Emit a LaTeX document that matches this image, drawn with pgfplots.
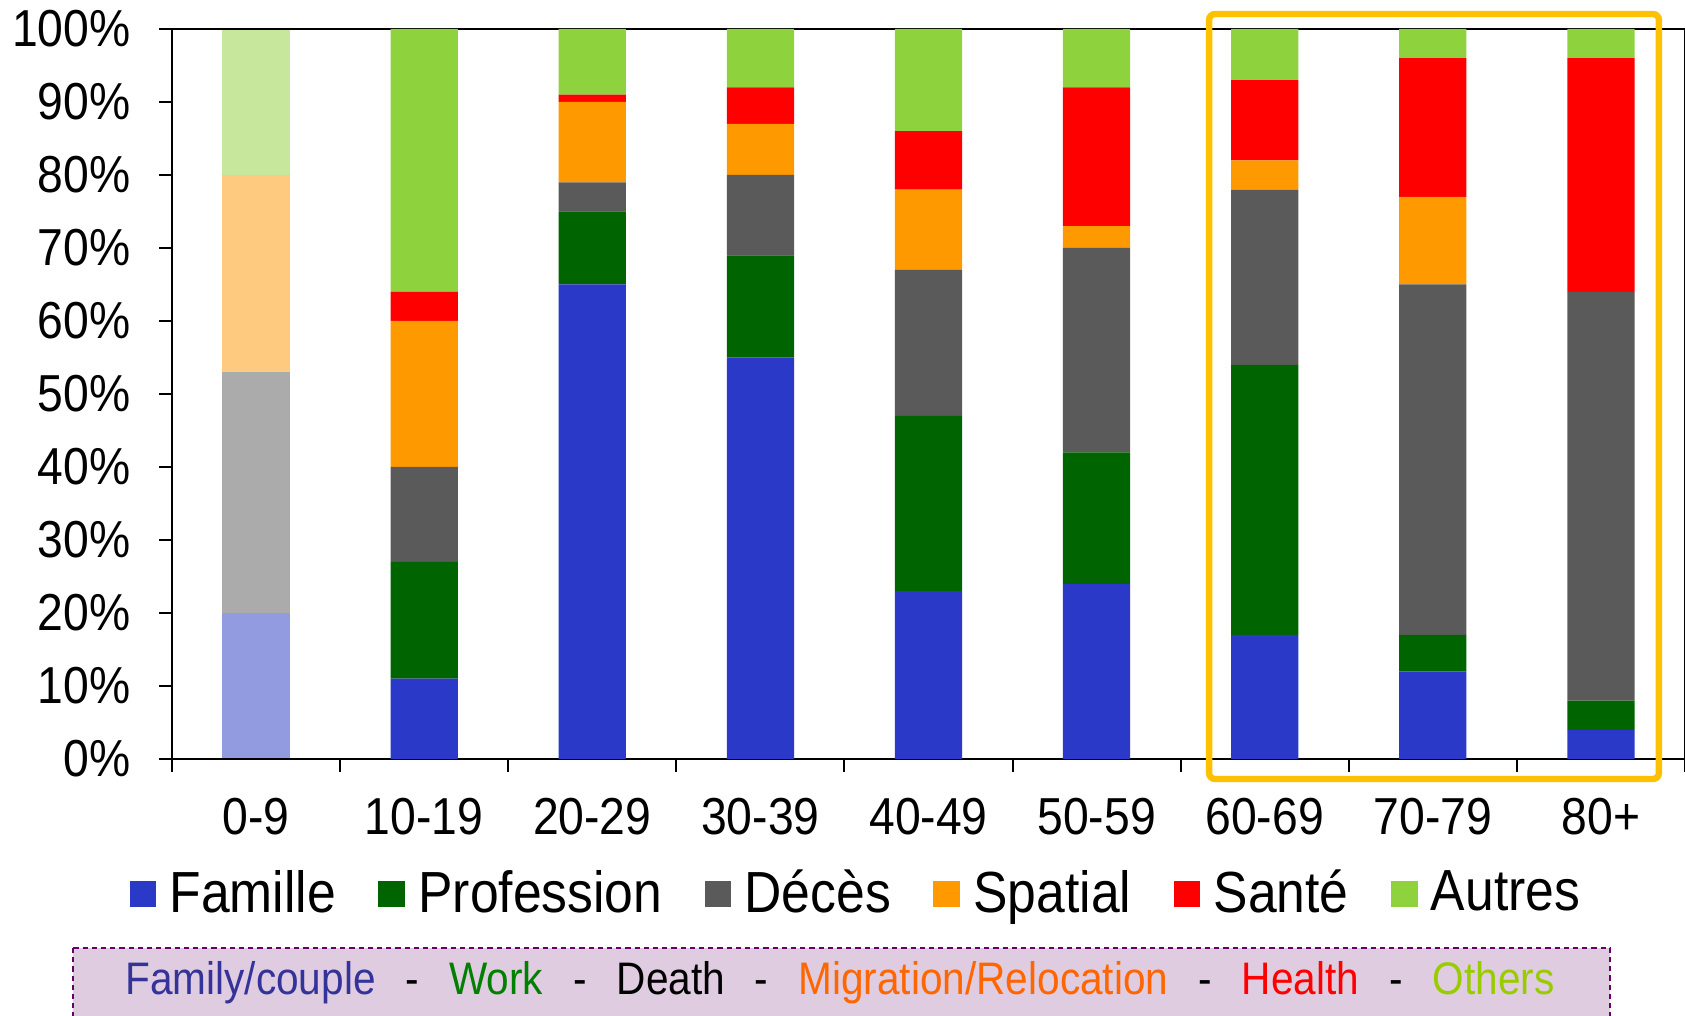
\documentclass[border=0pt]{standalone}
\usepackage{fontspec}
\setmainfont[FakeStretch=0.89]{Liberation Sans}
\usepackage{pgfplots}
\usepackage{pgfplotstable}
\pgfplotsset{compat=1.18}

\definecolor{cfam}{HTML}{2B39C8}
\definecolor{cpro}{HTML}{006400}
\definecolor{cdec}{HTML}{5A5A5A}
\definecolor{cspa}{HTML}{FF9900}
\definecolor{csan}{HTML}{FF0000}
\definecolor{caut}{HTML}{8ED23E}
\definecolor{lfam}{HTML}{939BE0}
\definecolor{ldec}{HTML}{ABABAB}
\definecolor{lspa}{HTML}{FECA80}
\definecolor{laut}{HTML}{C6E79C}
\definecolor{hilite}{HTML}{FFC000}
\definecolor{boxfill}{HTML}{E0CCE0}
\definecolor{boxedge}{HTML}{660066}
\definecolor{tfam}{HTML}{333399}
\definecolor{twork}{HTML}{008000}
\definecolor{tmig}{HTML}{FF6600}
\definecolor{toth}{HTML}{99CC00}

% shares per age group (percent), stacked bottom to top
\pgfplotstableread{
x fam pro dec spa san aut
1 11 16 13 20 4 36
2 65 10 4 11 1 9
3 55 14 11 7 5 8
4 23 24 20 11 8 14
5 24 18 28 3 19 8
6 17 37 24 4 11 7
7 12 5 48 12 19 4
8 4 4 56 0 32 4
}\ages

% 0-9 group, drawn in faded colours
\pgfplotstableread{
x fam pro dec spa san aut
0 20 0 33 27 0 20
}\young

\pgfplotsset{
  base/.style={
    width=378.25pt, height=182.5pt, scale only axis,
    xmin=-0.5, xmax=8.5, ymin=0, ymax=100,
    ybar stacked, bar width=0.4,
  },
  leg/.style={legend image code/.code={\fill[##1] (0pt,-3.35pt) rectangle (6.7pt,3.35pt);}},
}

\begin{document}
\begin{tikzpicture}
\path[use as bounding box] (-43pt,-64.25pt) rectangle (378.25pt,189.75pt);

\begin{axis}[base, hide axis]
\addplot[fill=lfam, draw=none] table[x=x, y=fam] {\young};
\addplot[fill=cpro, draw=none] table[x=x, y=pro] {\young};
\addplot[fill=ldec, draw=none] table[x=x, y=dec] {\young};
\addplot[fill=lspa, draw=none] table[x=x, y=spa] {\young};
\addplot[fill=csan, draw=none] table[x=x, y=san] {\young};
\addplot[fill=laut, draw=none] table[x=x, y=aut] {\young};
\end{axis}

\begin{axis}[
  base,
  clip=false,
  axis line style={black, line width=0.6pt},
  tick align=outside,
  xtick pos=left, ytick pos=left,
  major tick length=3.2pt,
  tick style={black, line width=0.5pt},
  xtick={-0.5,0.5,...,8.5},
  xticklabels={},
  extra x ticks={0,1,2,3,4,5,6,7,8},
  extra x tick labels={0-9,10-19,20-29,30-39,40-49,50-59,60-69,70-79,80+},
  extra x tick style={major tick length=0pt,
    xticklabel style={anchor=base, yshift=-19pt}},
  ytick={0,10,...,100},
  yticklabels={0\%,10\%,20\%,30\%,40\%,50\%,60\%,70\%,80\%,90\%,100\%},
  yticklabel style={anchor=east, inner sep=0pt, xshift=-7pt},
  tick label style={font=\fontsize{13}{15}\selectfont},
  legend columns=6,
  legend style={draw=none, fill=none, at={(0.454,-0.185)}, anchor=center,
    font=\fontsize{14.5}{17}\selectfont,
    /tikz/every odd column/.append style={column sep=1.3pt},
    /tikz/every even column/.append style={column sep=8.6pt}},
]
\addplot[leg, fill=cfam, draw=none] table[x=x, y=fam] {\ages};
\addlegendentry{Famille}
\addplot[leg, fill=cpro, draw=none] table[x=x, y=pro] {\ages};
\addlegendentry{Profession}
\addplot[leg, fill=cdec, draw=none] table[x=x, y=dec] {\ages};
\addlegendentry{Décès}
\addplot[leg, fill=cspa, draw=none] table[x=x, y=spa] {\ages};
\addlegendentry{Spatial}
\addplot[leg, fill=csan, draw=none] table[x=x, y=san] {\ages};
\addlegendentry{Santé}
\addplot[leg, fill=caut, draw=none] table[x=x, y=aut] {\ages};
\addlegendentry{Autres}

\draw[hilite, line width=1.6pt, rounded corners=1.5pt]
  (axis cs:5.669,-2.74) rectangle (axis cs:8.345,102.05);
\end{axis}

\draw[boxedge, fill=boxfill, line width=0.6pt, dash pattern=on 1.3pt off 1pt]
  (-24.75pt,-47.25pt) rectangle (359.5pt,-80pt);
\node[font=\fontsize{11.4}{13}\selectfont, inner sep=0pt] at (167pt,-56pt)
  {{\color{tfam}Family/couple}\hspace{7.5pt}-\hspace{7.5pt}{\color{twork}Work}\hspace{7.5pt}-\hspace{7.5pt}Death\hspace{7.5pt}-\hspace{7.5pt}{\color{tmig}Migration/Relocation}\hspace{7.5pt}-\hspace{7.5pt}{\color{csan}Health}\hspace{7.5pt}-\hspace{7.5pt}{\color{toth}Others}};
\end{tikzpicture}
\end{document}
